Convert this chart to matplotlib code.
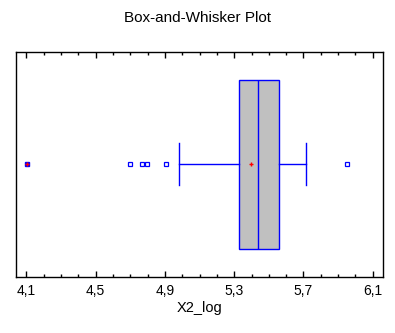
import matplotlib
matplotlib.use("Agg")
import matplotlib.pyplot as plt
from matplotlib.ticker import MultipleLocator, FuncFormatter

plt.rcParams['font.family'] = ['Liberation Sans', 'DejaVu Sans']

# summary statistics of X2_log
whisker_lo = 4.983
q1 = 5.329
median = 5.439
mean = 5.398
q3 = 5.560
whisker_hi = 5.716
outliers = [4.700, 4.768, 4.798, 4.908, 5.950]
far_outliers = [4.106]

blue = '#0000ff'

fig = plt.figure(figsize=(3.95, 3.33), dpi=100)
ax = fig.add_axes([16 / 395, 1 - 276.7 / 333, 367 / 395, 225 / 333])

stats = [dict(whislo=whisker_lo, q1=q1, med=median, q3=q3, whishi=whisker_hi,
              mean=mean, fliers=outliers)]
ax.bxp(stats, positions=[0.5], widths=0.751, capwidths=0.185, vert=False,
       patch_artist=True, showmeans=True,
       boxprops=dict(facecolor='#c0c0c0', edgecolor=blue, linewidth=1),
       medianprops=dict(color=blue, linewidth=1),
       whiskerprops=dict(color=blue, linewidth=1),
       capprops=dict(color=blue, linewidth=1),
       flierprops=dict(marker='s', markersize=2.6, markerfacecolor='white',
                       markeredgecolor=blue, markeredgewidth=0.9),
       meanprops=dict(marker='+', markersize=3.5, markeredgecolor='red',
                      markeredgewidth=1))

# far outside points: filled square with a red cross
ax.plot(far_outliers, [0.5] * len(far_outliers), linestyle='none', marker='s',
        markersize=3, markerfacecolor=blue, markeredgecolor=blue)
ax.plot(far_outliers, [0.5] * len(far_outliers), linestyle='none', marker='+',
        markersize=3.5, markeredgecolor='red', markeredgewidth=1)

ax.set_xlim(4.0406, 6.159)
ax.set_ylim(0, 1)
ax.set_yticks([])
ax.xaxis.set_minor_locator(MultipleLocator(0.1))
ax.set_xticks([4.1, 4.5, 4.9, 5.3, 5.7, 6.1])
ax.xaxis.set_major_formatter(FuncFormatter(lambda v, p: f"{v:.1f}".replace('.', ',')))
ax.tick_params(axis='x', which='both', direction='in', top=True, bottom=True,
               labelsize=10, pad=5.2, colors='black')
ax.tick_params(axis='x', which='major', length=4.5, width=1)
ax.tick_params(axis='x', which='minor', length=2.5, width=1)
for s in ax.spines.values():
    s.set_linewidth(1)

ax.set_xlabel('X2_log', fontsize=10.5, labelpad=2.2)
fig.text(0.5, 1 - 22.3 / 333, 'Box-and-Whisker Plot', ha='center',
         va='baseline', fontsize=11)

fig.savefig('out.png', dpi=100)
